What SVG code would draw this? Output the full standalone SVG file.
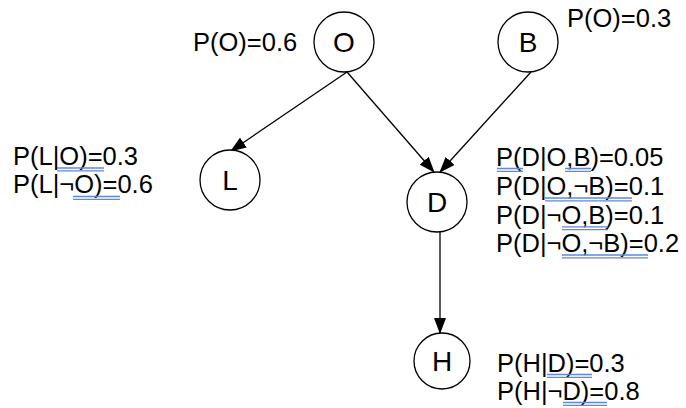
<svg xmlns="http://www.w3.org/2000/svg" width="686" height="408" viewBox="0 0 686 408">
<style>
text{font-family:"Liberation Sans",Arial,sans-serif;font-size:25.5px;fill:#000}
.c{fill:#fff;stroke:#000;stroke-width:1.3}
.n{text-anchor:middle;font-size:28px}
.e{stroke:#000;stroke-width:1.3;fill:none;marker-end:url(#ah)}
.u{stroke:#5f88d8;stroke-width:1.3;fill:none}
</style>
<defs>
<marker id="ah" markerWidth="16" markerHeight="12" refX="15" refY="6" orient="auto" markerUnits="userSpaceOnUse">
<path d="M0,0 L16,6 L0,12 Z" fill="#000"/>
</marker>
</defs>
<rect width="686" height="408" fill="#fff"/>
<g id="connectors">
<line class="e" x1="347" y1="72" x2="231" y2="151"/>
<line class="e" x1="347" y1="72" x2="434" y2="172"/>
<line class="e" x1="531" y1="72" x2="440" y2="172"/>
<line class="e" x1="440" y1="232" x2="440" y2="333"/>
</g>
<g id="node-O">
<circle class="c" cx="344" cy="42" r="30"/>
<text class="n" x="344" y="52">O</text>
<text x="193" y="51">P(O)=0.6</text>
</g>
<g id="node-B">
<circle class="c" cx="528" cy="42" r="30"/>
<text class="n" x="528" y="52">B</text>
<text x="567" y="27">P(O)=0.3</text>
</g>
<g id="node-L">
<circle class="c" cx="230" cy="180" r="30"/>
<text class="n" x="230" y="190">L</text>
<text x="13" y="165">P(L|O)=0.3</text>
<text x="13" y="193">P(L|¬O)=0.6</text>
<path class="u" d="M57,168H104M57,170.8H104M73,196.5H120M73,199.3H120"/>
</g>
<g id="node-D">
<circle class="c" cx="437" cy="202" r="30"/>
<text class="n" x="437" y="212">D</text>
<text x="496" y="166">P(D|O,B)=0.05</text>
<text x="496" y="195">P(D|O,¬B)=0.1</text>
<text x="496" y="224">P(D|¬O,B)=0.1</text>
<text x="496" y="252">P(D|¬O,¬B)=0.2</text>
<path class="u" d="M497,168.5H523M497,171.3H523M565,168.5H591M565,171.3H591M545,198H632M545,200.8H632M562,226.8H608M562,229.6H608M562,255H648M562,257.8H648"/>
</g>
<g id="node-H">
<circle class="c" cx="442" cy="361" r="28"/>
<text class="n" x="442" y="371">H</text>
<text x="497" y="372">P(H|D)=0.3</text>
<text x="497" y="400">P(H|¬D)=0.8</text>
<path class="u" d="M547,374.5H592M547,377.3H592M563,402.5H607M563,405.3H607"/>
</g>
</svg>
